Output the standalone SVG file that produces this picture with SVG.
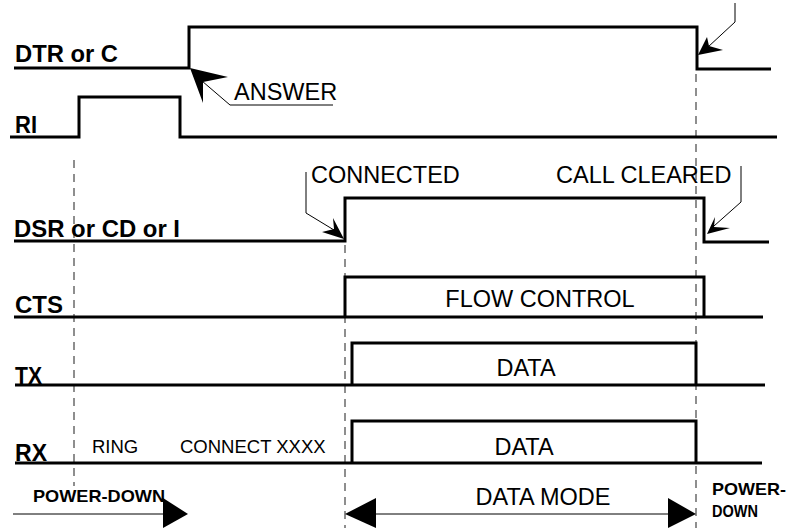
<svg xmlns="http://www.w3.org/2000/svg" width="788" height="528" viewBox="0 0 788 528">
<style>
.sig{fill:none;stroke:#000;stroke-width:3;stroke-linejoin:miter;stroke-linecap:butt}
.thin{fill:none;stroke:#000;stroke-width:1}
.dash{fill:none;stroke:#444;stroke-width:1.2;stroke-dasharray:8 6}
.lbl{font-family:"Liberation Sans",Arial,sans-serif;font-weight:bold;font-size:23px;fill:#000}
.txt{font-family:"Liberation Sans",Arial,sans-serif;font-size:23.5px;fill:#000}
.sm{font-family:"Liberation Sans",Arial,sans-serif;font-size:18.5px;fill:#000}
.pd{font-family:"Liberation Sans",Arial,sans-serif;font-weight:bold;font-size:17px;fill:#000}
.head{fill:#000;stroke:none}
</style>
<rect width="788" height="528" fill="#fff"/>
<g id="guides">
<line class="dash" x1="74" y1="160" x2="74" y2="486"/>
<line class="dash" x1="345" y1="245" x2="345" y2="528"/>
<line class="dash" x1="696" y1="74" x2="696" y2="528"/>
</g>
<g id="dtr">
<polyline class="sig" points="14,68 189,68 189,27 697,27 697,69 771,69"/>
<text class="lbl" x="15" y="62" textLength="103" lengthAdjust="spacingAndGlyphs">DTR or C</text>
</g>
<g id="ri">
<polyline class="sig" points="10,137 79,137 79,97 180,97 180,137 777,137"/>
<text class="lbl" x="15" y="133" textLength="22" lengthAdjust="spacingAndGlyphs">RI</text>
</g>
<g id="dsr">
<polyline class="sig" points="14,241 345,241 345,198 704,198 704,242 769,242"/>
<text class="lbl" x="14" y="237" textLength="166" lengthAdjust="spacingAndGlyphs">DSR or CD or I</text>
</g>
<g id="cts">
<polyline class="sig" points="14,317 763,317"/>
<polyline class="sig" points="345,317 345,277 704,277 704,317"/>
<text class="lbl" x="15" y="313" textLength="48" lengthAdjust="spacingAndGlyphs">CTS</text>
<text class="txt" x="540" y="307" text-anchor="middle">FLOW CONTROL</text>
</g>
<g id="tx">
<polyline class="sig" points="15,385 765,385"/>
<polyline class="sig" points="352,385 352,343 696,343 696,385"/>
<text class="lbl" x="15" y="384" textLength="27" lengthAdjust="spacingAndGlyphs">TX</text>
<text class="txt" x="526" y="376" text-anchor="middle">DATA</text>
</g>
<g id="rx">
<polyline class="sig" points="15,463 762,463"/>
<polyline class="sig" points="352,463 352,421 696,421 696,463"/>
<text class="lbl" x="15" y="461" textLength="32" lengthAdjust="spacingAndGlyphs">RX</text>
<text class="sm" x="92" y="453">RING</text>
<text class="sm" x="180" y="453">CONNECT XXXX</text>
<text class="txt" x="524" y="455" text-anchor="middle">DATA</text>
</g>
<g id="connectors">
<polyline class="thin" points="202,81 230,105 333,105"/>
<polygon class="head" points="190,68 228,77 203,82 203,103"/>
<polyline class="thin" points="735,3 735,22 708,47"/>
<polygon class="head" points="698,55 707,37 709,46 723,50"/>
<polyline class="thin" points="306,172 306,213 334,230"/>
<polygon class="head" points="344,239 322,232 334,229 333,218"/>
<polyline class="thin" points="741,166 741,202 714,226"/>
<polygon class="head" points="707,234 715,217 714,227 730,228"/>
<line class="thin" x1="13" y1="514" x2="164" y2="514"/>
<polygon class="head" points="163,498 188,514 163,528"/>
<line class="thin" x1="370" y1="514" x2="672" y2="514"/>
<polygon class="head" points="345,514 376,498 376,528"/>
<polygon class="head" points="696,514 668,498 668,528"/>
</g>
<g id="labels">
<text class="txt" x="234" y="100">ANSWER</text>
<text class="txt" x="311" y="183">CONNECTED</text>
<text class="txt" x="556" y="183">CALL CLEARED</text>
<text class="pd" x="33" y="502" textLength="132" lengthAdjust="spacingAndGlyphs">POWER-DOWN</text>
<text class="txt" x="543" y="505" text-anchor="middle">DATA MODE</text>
<text class="pd" x="712" y="495" textLength="74" lengthAdjust="spacingAndGlyphs">POWER-</text>
<text class="pd" x="712" y="517" textLength="46" lengthAdjust="spacingAndGlyphs">DOWN</text>
</g>
</svg>
